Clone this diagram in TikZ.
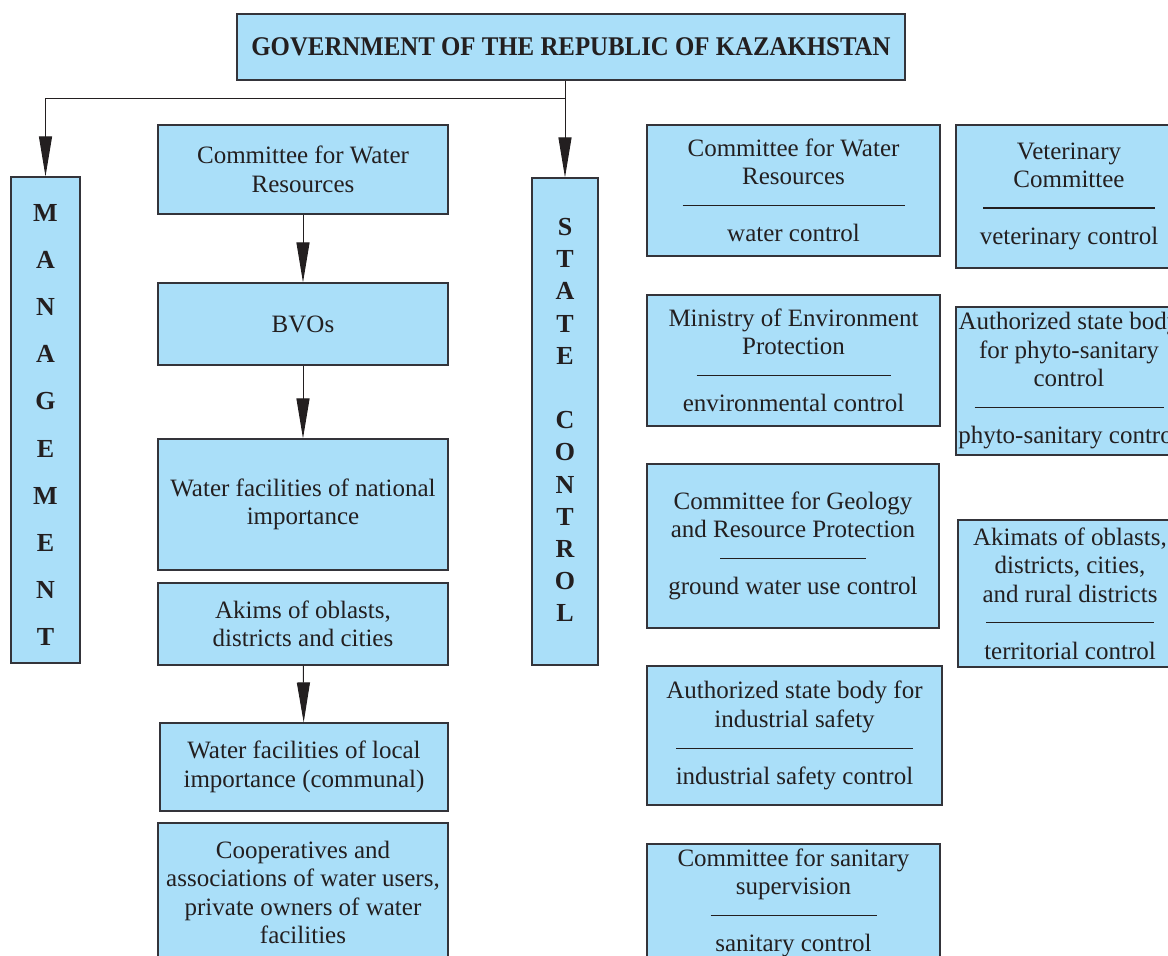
\documentclass[tikz,border=0pt]{standalone}
\usepackage{fontspec}
\setmainfont{Liberation Serif}
\newfontfamily\titlefont[FakeStretch=0.92]{Liberation Serif}
\usepackage{tikz}
\usetikzlibrary{positioning, arrows.meta}

\begin{document}
\begin{tikzpicture}[x=1pt, y=-1pt, >={Triangle[length=40pt, width=13pt]}]
        % colours
        \definecolor{boxfill}{RGB}{170,223,249}
        \definecolor{boxline}{RGB}{52,52,58}
        \definecolor{ink}{RGB}{35,31,32}

        % common styles
        \tikzset{
            box/.style={draw=boxline, fill=boxfill, line width=1.1pt, align=center,
                inner sep=0pt, text=ink, font=\fontsize{25}{28.5}\selectfont},
            letter/.style={inner sep=0pt, text=ink, font=\bfseries\fontsize{26}{30}\selectfont},
            flow/.style={->, draw=ink, line width=1pt},
            sep/.style={}
        }
        % separator line inside a box (width, thickness)
        \newcommand{\sepline}[2][0.7pt]{\rule[0.3em]{#2}{#1}}

        \clip (0,0) rectangle (1168,956);

        % --- top ---
        \node[box, minimum width=668, minimum height=66] (gov) at (571,47)
            {\titlefont\bfseries\fontsize{27}{30}\selectfont GOVERNMENT OF THE REPUBLIC OF KAZAKHSTAN};
        \coordinate (junc) at (565,98);

        % --- management column ---
        \node[box, minimum width=69, minimum height=486] (mgmt) at (45.5,420) {};
        \foreach \l [count=\i from 0] in {M,A,N,A,G,E,M,E,N,T}
            \node[letter] (mg\i) at (45.5, {213+47.1*\i}) {\l};

        \node[box, minimum width=290, minimum height=89] (cwr) at (303,169.5)
            {Committee for Water\\Resources};
        \node[box, minimum width=290, minimum height=82] (bvo) at (303,324) {BVOs};
        \node[box, minimum width=290, minimum height=131] (natl) at (303,504.5)
            {Water facilities of national\\importance};
        \node[box, minimum width=290, minimum height=82] (akims) at (303,624)
            {Akims of oblasts,\\districts and cities};
        \node[box, minimum width=288, minimum height=88] (local) at (304,767)
            {Water facilities of local\\importance (communal)};
        \node[box, minimum width=290, minimum height=139] (coop) at (303,892.5)
            {Cooperatives and\\associations of water users,\\private owners of water\\facilities};

        % --- state control column ---
        \node[box, minimum width=66, minimum height=487] (state) at (565,421.5) {};
        \foreach \l/\k in {S/0,T/1,A/2,T/3,E/4,C/6,O/7,N/8,T/9,R/10,O/11,L/12}
            \node[letter] (st\k) at (565, {227+32.2*\k}) {\l};

        \node[box, minimum width=293, minimum height=131] (wctl) at (793.5,190.5)
            {Committee for Water\\Resources\\\sepline{222pt}\\water control};
        \node[box, minimum width=293, minimum height=131] (env) at (793.5,360.5)
            {Ministry of Environment\\Protection\\\sepline{194pt}\\environmental control};
        \node[box, minimum width=292, minimum height=164] (geo) at (793,546)
            {Committee for Geology\\and Resource Protection\\\sepline{146pt}\\ground water use control};
        \node[box, minimum width=295, minimum height=139] (ind) at (794.5,735.5)
            {Authorized state body for\\industrial safety\\\sepline{237pt}\\industrial safety control};
        \node[box, minimum width=293, minimum height=118] (san) at (793.5,903)
            {Committee for sanitary\\supervision\\\sepline{166pt}\\sanitary control};

        \node[box, minimum width=226, minimum height=143] (vet) at (1069,196.5)
            {Veterinary\\Committee\\\sepline[1.6pt]{172pt}\\veterinary control};
        \node[box, minimum width=226, minimum height=148] (phyto) at (1069,381)
            {Authorized state body\\for phyto-sanitary\\control\\\sepline{189pt}\\phyto-sanitary control};
        \node[box, minimum width=224, minimum height=147] (akimats) at (1070,593.5)
            {Akimats of oblasts,\\districts, cities,\\and rural districts\\\sepline{168pt}\\territorial control};

        % --- connectors ---
        \draw[flow] (gov.south -| junc) -- (state.north);
        \draw[flow] (junc) -| (mgmt.north);
        \draw[flow] (cwr) -- (bvo);
        \draw[flow] (bvo) -- (natl);
        \draw[flow] (akims) -- (local);
    \end{tikzpicture}
\end{document}
